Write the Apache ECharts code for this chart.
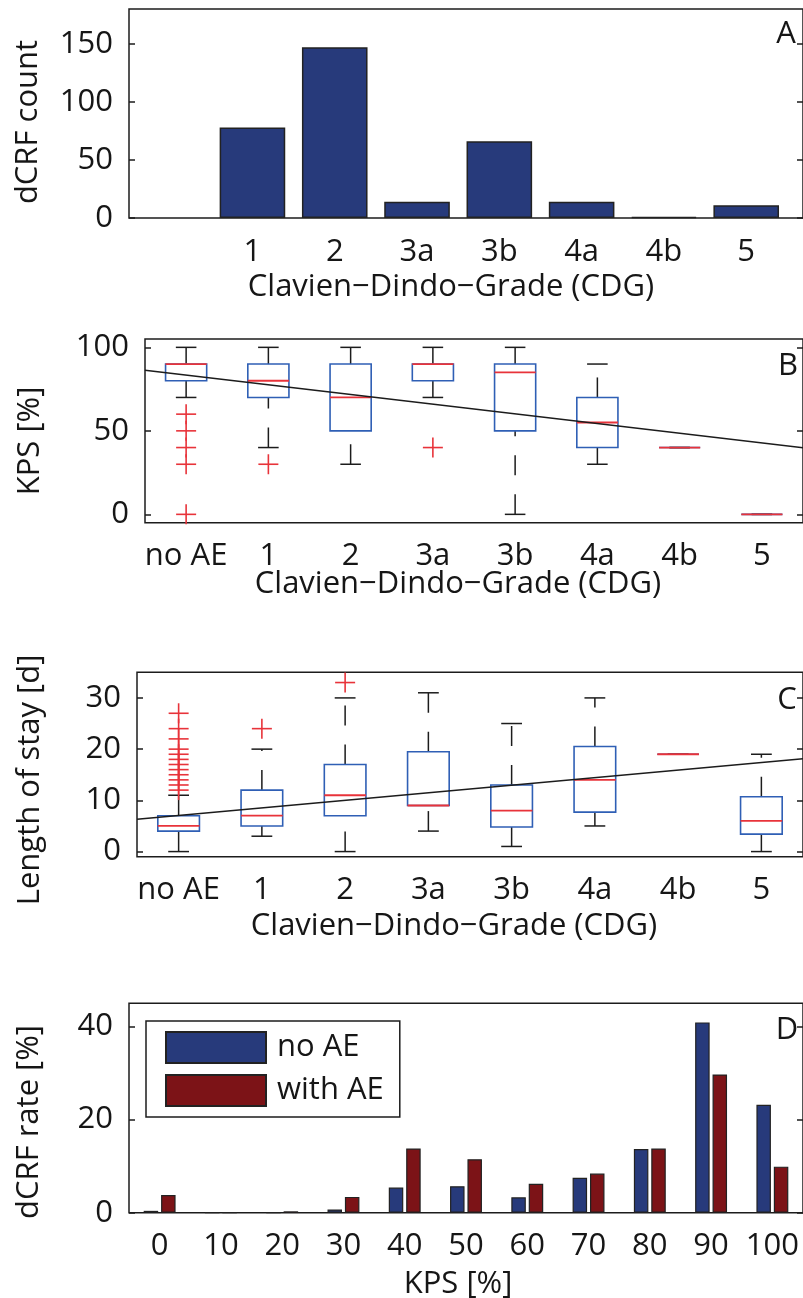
<!DOCTYPE html>
<html>
<head>
<meta charset="utf-8">
<script src="https://cdn.jsdelivr.net/npm/echarts@6/dist/echarts.min.js"></script>
<style>
html,body{margin:0;padding:0;background:#fff;}
#chart{width:803px;height:1298px;}
</style>
</head>
<body>
<div id="chart"></div>
<script>
// ---------- DATA ----------
const cdgLabels = ['no AE', '1', '2', '3a', '3b', '4a', '4b', '5'];
// Panel A: dCRF count per CDG (index into cdgLabels; "no AE" slot empty)
const countIdx = [1, 2, 3, 4, 5, 6, 7];
const countVals = [78, 147, 14, 66, 14, 1, 11];

// Panel B: KPS boxplots [lowWhisker, Q1, median, Q3, highWhisker]
const kpsBoxes = [
  [70, 80, 90, 90, 100],
  [40, 70, 80, 90, 100],
  [30, 50, 70, 90, 100],
  [70, 80, 90, 90, 100],
  [0, 50, 85, 90, 100],
  [30, 40, 55, 70, 90],
  [40, 40, 40, 40, 40],
  [0, 0, 0, 0, 0]
];
const kpsOutlierCat = [0, 0, 0, 0, 0, 1, 3];
const kpsOutlierVal = [60, 50, 40, 30, 0, 30, 40];
const kpsTrendEnds = [86.3, 39.9]; // fitted line at left / right edges

// Panel C: length of stay boxplots
const losBoxes = [
  [0, 4, 5, 7, 11],
  [3, 5, 7, 12, 20],
  [0, 7, 11, 17, 30],
  [4, 9, 9, 19.5, 31],
  [1, 4.8, 8, 13, 25],
  [5, 7.7, 14, 20.5, 30],
  [19, 19, 19, 19, 19],
  [0, 3.4, 6, 10.7, 19]
];
const losOutlierCat = [0, 0, 0, 0, 0, 0, 0, 0, 0, 0, 0, 0, 1, 2];
const losOutlierVal = [12, 13, 14, 15, 16, 17, 18, 19, 20, 22, 24, 27, 24, 33];
const losTrendEnds = [6.3, 18.1];

// Panel D: dCRF rate by KPS
const kpsLevels = ['0', '10', '20', '30', '40', '50', '60', '70', '80', '90', '100'];
const rateNoAE = [0.4, 0, 0, 0.7, 5.4, 5.7, 3.3, 7.5, 13.7, 40.9, 23.2];
const rateWithAE = [3.8, 0, 0.3, 3.4, 13.8, 11.5, 6.2, 8.4, 13.8, 29.7, 9.9];

// tick label values
const ticksA = [0, 50, 100, 150];
const ticksB = [0, 50, 100];
const ticksC = [0, 10, 20, 30];
const ticksD = [0, 20, 40];

// ---------- STYLE ----------
const FONT = 'Open Sans';
const FS = 31;
const TXT = '#161616';
const NAVY = '#273a7b';
const DARKRED = '#7c1317';
const BOXBLUE = '#2f5fb5';
const MEDRED = '#e8333a';
const BLACK = '#1c1c1c';

const chart = echarts.init(document.getElementById('chart'), null, {renderer: 'canvas'});

function boxRender(params, api) {
  const x = api.value(0);
  const lo = api.coord([x, api.value(1)]);
  const q1 = api.coord([x, api.value(2)]);
  const md = api.coord([x, api.value(3)]);
  const q3 = api.coord([x, api.value(4)]);
  const hi = api.coord([x, api.value(5)]);
  const band = api.size([1, 0])[0];
  const bw = band * 0.5, cw = band * 0.25;
  const cx = lo[0];
  const wStyle = {stroke: BLACK, lineWidth: 1.5, lineDash: [20, 19]};
  const children = [];
  if (lo[1] !== q1[1]) children.push({type: 'line', shape: {x1: cx, y1: lo[1], x2: cx, y2: q1[1]}, style: wStyle});
  if (q3[1] !== hi[1]) children.push({type: 'line', shape: {x1: cx, y1: q3[1], x2: cx, y2: hi[1]}, style: wStyle});
  children.push({type: 'line', shape: {x1: cx - cw / 2, y1: lo[1], x2: cx + cw / 2, y2: lo[1]}, style: {stroke: BLACK, lineWidth: 1.5}});
  children.push({type: 'line', shape: {x1: cx - cw / 2, y1: hi[1], x2: cx + cw / 2, y2: hi[1]}, style: {stroke: BLACK, lineWidth: 1.5}});
  children.push({type: 'rect', shape: {x: cx - bw / 2, y: q3[1], width: bw, height: q1[1] - q3[1]}, style: {fill: 'none', stroke: BOXBLUE, lineWidth: 1.6}});
  children.push({type: 'line', shape: {x1: cx - bw / 2, y1: md[1], x2: cx + bw / 2, y2: md[1]}, style: {stroke: MEDRED, lineWidth: 1.8}});
  return {type: 'group', children: children};
}
function plusRender(params, api) {
  const p = api.coord([api.value(0), api.value(1)]);
  const h = 10;
  return {type: 'group', children: [
    {type: 'line', shape: {x1: p[0] - h, y1: p[1], x2: p[0] + h, y2: p[1]}, style: {stroke: MEDRED, lineWidth: 1.6}},
    {type: 'line', shape: {x1: p[0], y1: p[1] - h, x2: p[0], y2: p[1] + h}, style: {stroke: MEDRED, lineWidth: 1.6}}
  ]};
}

const gridBase = {show: true, borderColor: BLACK, borderWidth: 1.5, backgroundColor: 'transparent', containLabel: false};
const grids = [
  Object.assign({left: 129, top: 9, width: 678.5, height: 209}, gridBase),
  Object.assign({left: 145, top: 339, width: 662.5, height: 183.7}, gridBase),
  Object.assign({left: 137, top: 672.3, width: 670.5, height: 184.4}, gridBase),
  Object.assign({left: 129, top: 1003.3, width: 678.5, height: 209.4}, gridBase)
];

const lblStyle = {fontFamily: FONT, fontSize: FS, color: TXT};
function xCat(gi, data) {
  return {type: 'category', gridIndex: gi, data: data, boundaryGap: true,
    axisLine: {show: false, onZero: false}, axisTick: {show: false}, splitLine: {show: false},
    axisLabel: Object.assign({margin: 18, interval: 0}, lblStyle)};
}
function xHidden(gi) {
  return {type: 'value', gridIndex: gi, min: -0.5, max: 7.5, show: false, axisLine: {onZero: false}, splitLine: {show: false}};
}
function yLeft(gi, min, max, ticks) {
  return {type: 'value', gridIndex: gi, min: min, max: max, position: 'left',
    axisLine: {show: false, onZero: false}, splitLine: {show: false},
    axisTick: {show: true, inside: true, length: 6, customValues: ticks, lineStyle: {color: BLACK, width: 1.5}},
    axisLabel: Object.assign({margin: 16, customValues: ticks}, lblStyle)};
}
function yRight(gi, min, max, ticks) {
  return {type: 'value', gridIndex: gi, min: min, max: max, position: 'right',
    axisLine: {show: false, onZero: false}, splitLine: {show: false},
    axisTick: {show: true, inside: true, length: 6, customValues: ticks, lineStyle: {color: BLACK, width: 1.5}},
    axisLabel: {show: false}};
}

const option = {
  animation: false,
  textStyle: {fontFamily: FONT},
  grid: grids,
  xAxis: [
    {type: 'value', gridIndex: 0, min: -0.5, max: 7.69,
      axisLine: {show: false, onZero: false}, axisTick: {show: false}, splitLine: {show: false},
      axisLabel: Object.assign({margin: 19, customValues: countIdx, formatter: v => cdgLabels[Math.round(v)]}, lblStyle)},
    xCat(1, cdgLabels),
    xHidden(1),
    xCat(2, cdgLabels),
    xHidden(2),
    xCat(3, kpsLevels)
  ],
  yAxis: [
    yLeft(0, 0, 180, ticksA), yRight(0, 0, 180, ticksA),
    yLeft(1, -5, 105, ticksB), yRight(1, -5, 105, ticksB),
    yLeft(2, -1, 35, ticksC), yRight(2, -1, 35, ticksC),
    yLeft(3, 0, 45, ticksD), yRight(3, 0, 45, ticksD)
  ],
  legend: {
    data: ['no AE', 'with AE'],
    orient: 'vertical', left: 146, top: 1021,
    itemWidth: 100, itemHeight: 31, itemGap: 10,
    padding: [10, 16, 10, 19],
    borderColor: BLACK, borderWidth: 1.5, backgroundColor: '#fff',
    textStyle: {fontFamily: FONT, fontSize: FS, color: TXT, padding: [0, 0, 0, 6]},
    icon: 'rect'
  },
  series: [
    {name: 'count', type: 'bar', xAxisIndex: 0, yAxisIndex: 0,
      data: countIdx.map((c, i) => [c, countVals[i]]), barWidth: 65.6,
      itemStyle: {color: NAVY, borderColor: '#222', borderWidth: 1.5}},
    {name: 'kpsBox', type: 'custom', xAxisIndex: 1, yAxisIndex: 2,
      data: kpsBoxes.map((b, i) => [i].concat(b)), renderItem: boxRender, z: 3},
    {name: 'kpsOut', type: 'custom', xAxisIndex: 1, yAxisIndex: 2,
      data: kpsOutlierCat.map((c, i) => [c, kpsOutlierVal[i]]), renderItem: plusRender, z: 3},
    {name: 'kpsTrend', type: 'line', xAxisIndex: 2, yAxisIndex: 2, symbol: 'none', z: 5,
      data: [[-0.5, kpsTrendEnds[0]], [7.5, kpsTrendEnds[1]]], lineStyle: {color: BLACK, width: 1.5}},
    {name: 'losBox', type: 'custom', xAxisIndex: 3, yAxisIndex: 4,
      data: losBoxes.map((b, i) => [i].concat(b)), renderItem: boxRender, z: 3},
    {name: 'losOut', type: 'custom', xAxisIndex: 3, yAxisIndex: 4,
      data: losOutlierCat.map((c, i) => [c, losOutlierVal[i]]), renderItem: plusRender, z: 3},
    {name: 'losTrend', type: 'line', xAxisIndex: 4, yAxisIndex: 4, symbol: 'none', z: 5,
      data: [[-0.5, losTrendEnds[0]], [7.5, losTrendEnds[1]]], lineStyle: {color: BLACK, width: 1.5}},
    {name: 'no AE', type: 'bar', xAxisIndex: 5, yAxisIndex: 6, data: rateNoAE,
      barWidth: 14.5, barGap: '20%', itemStyle: {color: NAVY, borderColor: '#222', borderWidth: 1.2}},
    {name: 'with AE', type: 'bar', xAxisIndex: 5, yAxisIndex: 6, data: rateWithAE,
      barWidth: 14.5, barGap: '20%', itemStyle: {color: DARKRED, borderColor: '#222', borderWidth: 1.2}}
  ],
  graphic: [
    {type: 'text', x: 28, y: 122, rotation: Math.PI / 2, style: {text: 'dCRF count', font: FS + 'px "' + FONT + '"', fill: TXT, align: 'center', verticalAlign: 'middle'}},
    {type: 'text', x: 30, y: 441, rotation: Math.PI / 2, style: {text: 'KPS [%]', font: FS + 'px "' + FONT + '"', fill: TXT, align: 'center', verticalAlign: 'middle'}},
    {type: 'text', x: 30, y: 780, rotation: Math.PI / 2, style: {text: 'Length of stay [d]', font: FS + 'px "' + FONT + '"', fill: TXT, align: 'center', verticalAlign: 'middle'}},
    {type: 'text', x: 29, y: 1122, rotation: Math.PI / 2, style: {text: 'dCRF rate [%]', font: FS + 'px "' + FONT + '"', fill: TXT, align: 'center', verticalAlign: 'middle'}},
    {type: 'text', x: 451, y: 287, style: {text: 'Clavien\u2212Dindo\u2212Grade (CDG)', font: FS + 'px "' + FONT + '"', fill: TXT, align: 'center', verticalAlign: 'middle'}},
    {type: 'text', x: 458, y: 584, style: {text: 'Clavien\u2212Dindo\u2212Grade (CDG)', font: FS + 'px "' + FONT + '"', fill: TXT, align: 'center', verticalAlign: 'middle'}},
    {type: 'text', x: 454, y: 926, style: {text: 'Clavien\u2212Dindo\u2212Grade (CDG)', font: FS + 'px "' + FONT + '"', fill: TXT, align: 'center', verticalAlign: 'middle'}},
    {type: 'text', x: 458, y: 1284, style: {text: 'KPS [%]', font: FS + 'px "' + FONT + '"', fill: TXT, align: 'center', verticalAlign: 'middle'}},
    {type: 'text', x: 786, y: 34, style: {text: 'A', font: FS + 'px "' + FONT + '"', fill: TXT, align: 'center', verticalAlign: 'middle'}},
    {type: 'text', x: 788, y: 366, style: {text: 'B', font: FS + 'px "' + FONT + '"', fill: TXT, align: 'center', verticalAlign: 'middle'}},
    {type: 'text', x: 787, y: 700, style: {text: 'C', font: FS + 'px "' + FONT + '"', fill: TXT, align: 'center', verticalAlign: 'middle'}},
    {type: 'text', x: 787, y: 1030, style: {text: 'D', font: FS + 'px "' + FONT + '"', fill: TXT, align: 'center', verticalAlign: 'middle'}}
  ]
};
chart.setOption(option);
</script>
</body>
</html>
